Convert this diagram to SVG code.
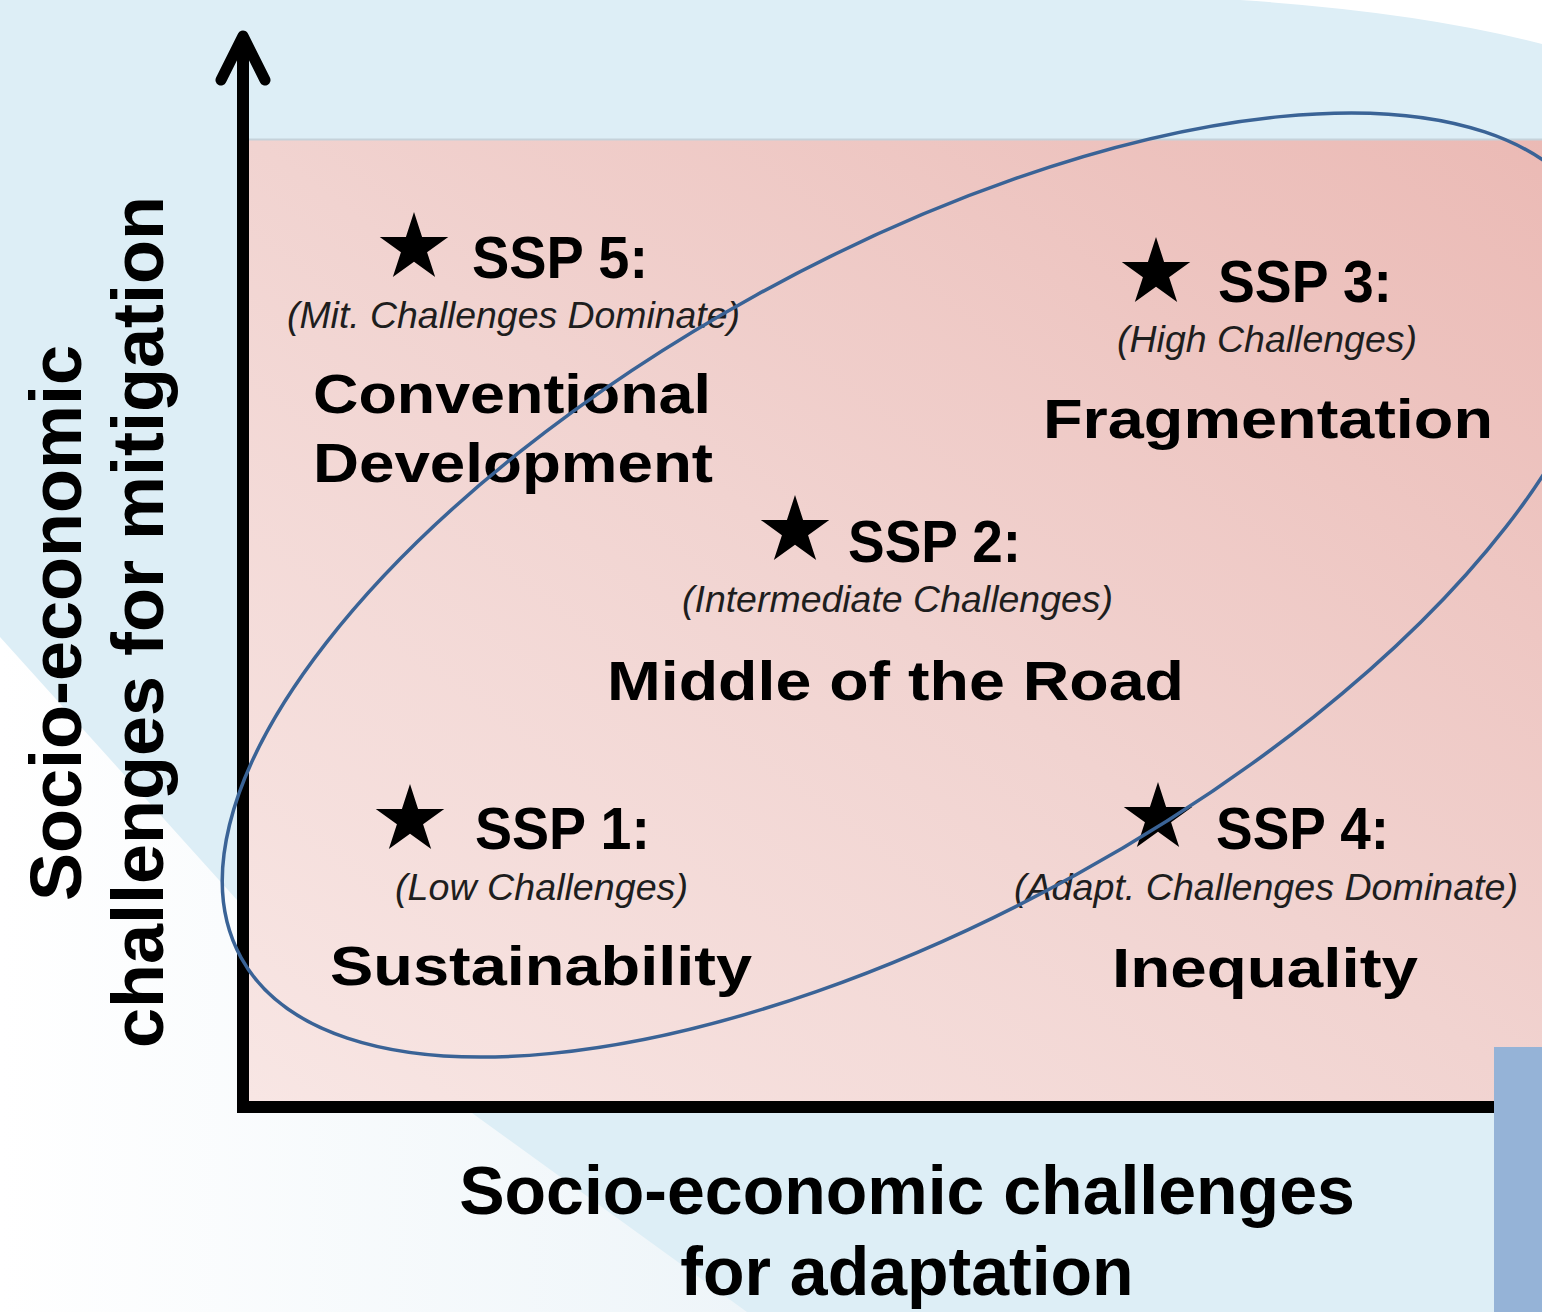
<svg xmlns="http://www.w3.org/2000/svg" width="1542" height="1312" viewBox="0 0 1542 1312">
<style>
.ssp{font-family:"Liberation Sans",Arial,sans-serif;font-weight:bold;font-size:60px;fill:#000}
.sub{font-family:"Liberation Sans",Arial,sans-serif;font-style:italic;font-size:37px;fill:#1e1e1e}
.ttl{font-family:"Liberation Sans",Arial,sans-serif;font-weight:bold;font-size:56px;fill:#000}
.axl{font-family:"Liberation Sans",Arial,sans-serif;font-weight:bold;fill:#000;text-anchor:middle}
</style>
<defs>
<linearGradient id="pink" x1="0" y1="1" x2="1" y2="0">
<stop offset="0" stop-color="#f8e6e4"/>
<stop offset="0.5" stop-color="#f1d3d0"/>
<stop offset="1" stop-color="#ebbab5"/>
</linearGradient>
<linearGradient id="pale" x1="0" y1="0" x2="1" y2="0">
<stop offset="0" stop-color="#ffffff"/>
<stop offset="1" stop-color="#eef5f9"/>
</linearGradient>
<polygon id="star" points="0,-36 8.08,-11.12 34.24,-11.12 13.08,4.25 21.16,29.12 0,13.75 -21.16,29.12 -13.08,4.25 -34.24,-11.12 -8.08,-11.12"/>
</defs>

<g id="background">
<rect x="0" y="0" width="1542" height="1312" fill="#ddeef6"/>
<path d="M1240,0 Q1420,12 1542,44 L1542,0 Z" fill="#ffffff"/>
<path d="M0,637 L237,900 L472,1113 L747,1312 L0,1312 Z" fill="url(#pale)"/>
<rect x="249" y="139" width="1293" height="962" fill="url(#pink)"/>
<line x1="249" y1="139.5" x2="1542" y2="139.5" stroke="#c5d2da" stroke-width="2"/>
<rect x="1494" y="1047" width="48" height="265" fill="#95b3d7"/>
</g>

<g id="connectors">
<line x1="243" y1="40" x2="243" y2="1113" stroke="#000" stroke-width="12"/>
<polyline points="221,80 243,36 265,80" fill="none" stroke="#000" stroke-width="11" stroke-linecap="round" stroke-linejoin="round"/>
<line x1="237" y1="1107" x2="1494" y2="1107" stroke="#000" stroke-width="12"/>
</g>

<g id="axis-y-label">
<text class="axl" font-size="72" transform="translate(81,623) rotate(-90)">Socio-economic</text>
<text class="axl" font-size="72" transform="translate(163,622) rotate(-90)">challenges for mitigation</text>
</g>
<g id="axis-x-label">
<text class="axl" font-size="68" x="907" y="1214">Socio-economic challenges</text>
<text class="axl" font-size="68" x="907" y="1295">for adaptation</text>
</g>

<g id="ssp5">
<use href="#star" x="414" y="248"/>
<text class="ssp" x="472" y="278" textLength="176" lengthAdjust="spacingAndGlyphs">SSP 5:</text>
<text class="sub" x="287" y="328" textLength="453" lengthAdjust="spacingAndGlyphs">(Mit. Challenges Dominate)</text>
<text class="ttl" x="313" y="413" textLength="398" lengthAdjust="spacingAndGlyphs">Conventional</text>
<text class="ttl" x="313" y="482" textLength="400" lengthAdjust="spacingAndGlyphs">Development</text>
</g>

<g id="ssp3">
<use href="#star" x="1156" y="273"/>
<text class="ssp" x="1218" y="302" textLength="174" lengthAdjust="spacingAndGlyphs">SSP 3:</text>
<text class="sub" x="1117" y="352" textLength="300" lengthAdjust="spacingAndGlyphs">(High Challenges)</text>
<text class="ttl" x="1043" y="438" textLength="450" lengthAdjust="spacingAndGlyphs">Fragmentation</text>
</g>

<g id="ssp2">
<use href="#star" x="795" y="531"/>
<text class="ssp" x="848" y="562" textLength="173" lengthAdjust="spacingAndGlyphs">SSP 2:</text>
<text class="sub" x="682" y="612" textLength="431" lengthAdjust="spacingAndGlyphs">(Intermediate Challenges)</text>
<text class="ttl" x="607" y="700" textLength="577" lengthAdjust="spacingAndGlyphs">Middle of  the Road</text>
</g>

<g id="ssp1">
<use href="#star" x="410" y="820"/>
<text class="ssp" x="475" y="849" textLength="175" lengthAdjust="spacingAndGlyphs">SSP 1:</text>
<text class="sub" x="395" y="900" textLength="293" lengthAdjust="spacingAndGlyphs">(Low Challenges)</text>
<text class="ttl" x="330" y="985" textLength="422" lengthAdjust="spacingAndGlyphs">Sustainability</text>
</g>

<g id="ssp4">
<use href="#star" x="1158" y="818"/>
<text class="ssp" x="1216" y="849" textLength="173" lengthAdjust="spacingAndGlyphs">SSP 4:</text>
<text class="sub" x="1014" y="900" textLength="504" lengthAdjust="spacingAndGlyphs">(Adapt. Challenges Dominate)</text>
<text class="ttl" x="1112" y="987" textLength="306" lengthAdjust="spacingAndGlyphs">Inequality</text>
</g>

<g id="ellipse">
<ellipse cx="916" cy="585" rx="771" ry="331" transform="rotate(-28.9 916 585)" fill="none" stroke="#3a6396" stroke-width="3.5"/>
</g>
</svg>
